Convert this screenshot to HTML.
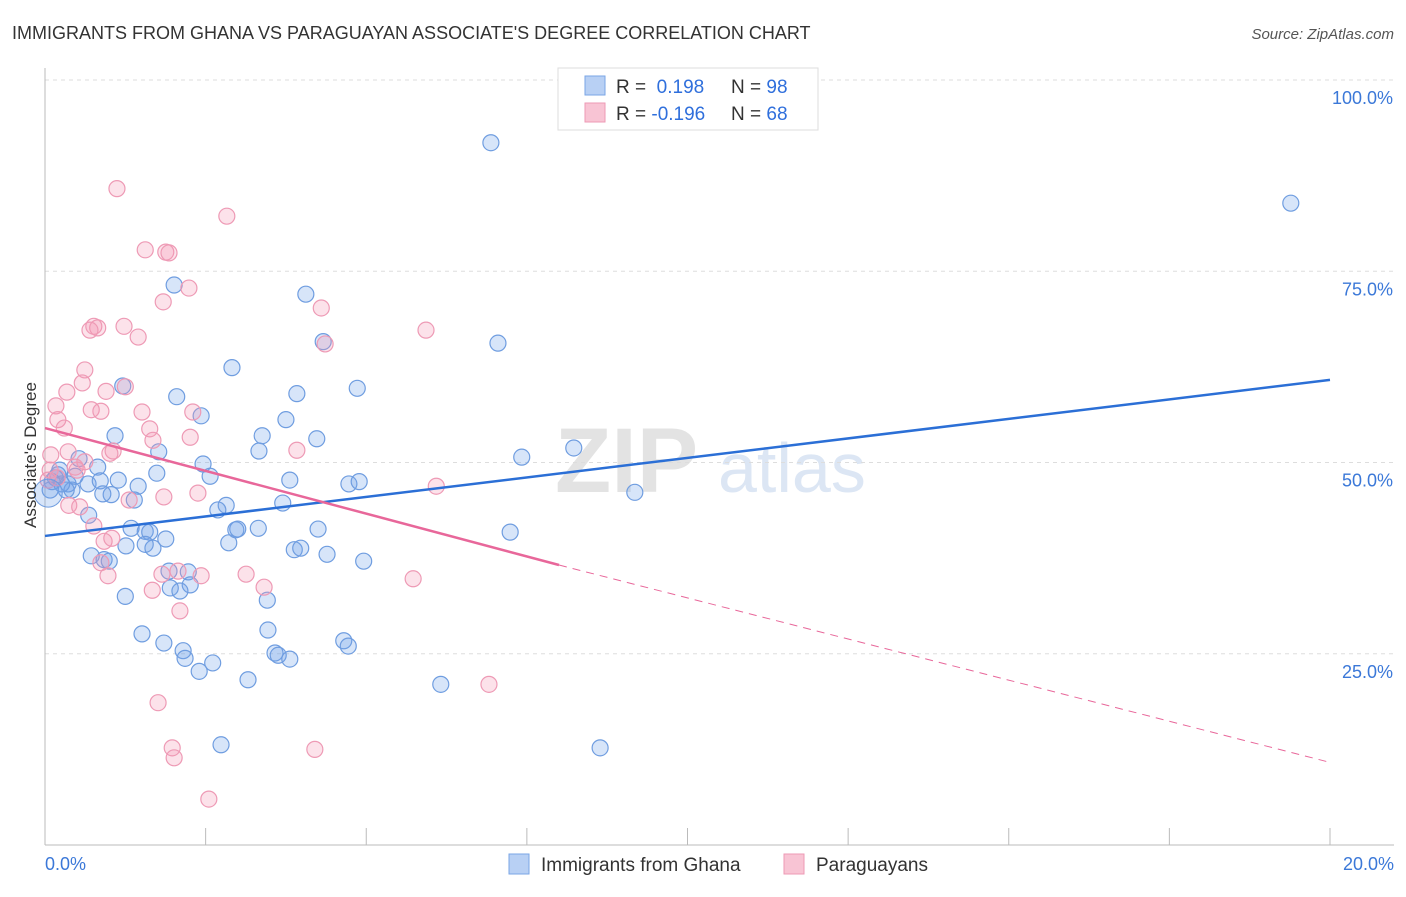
<!DOCTYPE html>
<html><head><meta charset="utf-8"><style>
body{margin:0;background:#fff;font-family:"Liberation Sans",sans-serif}
svg text{font-family:"Liberation Sans",sans-serif}
</style></head><body>
<svg id="chart" width="1406" height="892" xmlns="http://www.w3.org/2000/svg">
<text x="12" y="39" font-size="18" fill="#333">IMMIGRANTS FROM GHANA VS PARAGUAYAN ASSOCIATE'S DEGREE CORRELATION CHART</text>
<text x="1394" y="39" font-size="15" fill="#555" text-anchor="end" font-style="italic">Source: ZipAtlas.com</text>
<text x="555" y="492" font-size="92" fill="#e3e3e3" font-family="Liberation Serif" font-weight="bold">ZIP</text>
<text x="718" y="492" font-size="70" fill="#dce6f4">atlas</text>
<g id="grid"></g>
<g id="axes"></g>
<g id="pts"></g>
<g id="lines"></g>
<text x="36" y="455" font-size="17" fill="#333" text-anchor="middle" transform="rotate(-90 36 455)">Associate's Degree</text>
<g>
<rect x="558" y="68" width="260" height="62" fill="#fff" stroke="#ddd"/>
<rect x="585" y="76" width="20" height="19" fill="#b8d0f4" stroke="#7aa6e6"/>
<rect x="585" y="103" width="20" height="19" fill="#f8c4d4" stroke="#ee9ab5"/>
<text x="616" y="93" font-size="19" fill="#333">R = <tspan fill="#2f6fdc">&#160;0.198</tspan><tspan x="731">N = </tspan><tspan fill="#2f6fdc">98</tspan></text>
<text x="616" y="120" font-size="19" fill="#333">R = <tspan fill="#2f6fdc">-0.196</tspan><tspan x="731">N = </tspan><tspan fill="#2f6fdc">68</tspan></text>
</g>
<g>
<rect x="509" y="854" width="20" height="20" fill="#b8d0f4" stroke="#7aa6e6"/>
<text x="541" y="871" font-size="19" fill="#333">Immigrants from Ghana</text>
<rect x="784" y="854" width="20" height="20" fill="#f8c4d4" stroke="#ee9ab5"/>
<text x="816" y="871" font-size="19" fill="#333">Paraguayans</text>
</g>
</svg>
<script>
const xTicks=[0,2.5,5,7.5,10,12.5,15,17.5,20];
const yTicks=[25,50,75,100];
const yTickLabels=["25.0%","50.0%","75.0%","100.0%"];
const xTickLabels=["0.0%","20.0%"];
const bluePx=[[491,143],[1291,203],[174,285],[306,294],[498,343],[323,342],[232,368],[123,386],[297,394],[357,388],[177,397],[201,416],[286,420],[115,436],[262,436],[317,439],[259,451],[159,452],[574,448],[522,457],[203,464],[79,459],[98,467],[157,473],[210,476],[60,470],[55,478],[68,484],[72,490],[88,484],[100,481],[118,480],[138,486],[290,480],[349,484],[359,482],[635,492],[134,500],[111,495],[103,494],[226,505],[218,510],[283,503],[89,515],[131,528],[145,531],[150,532],[166,539],[238,529],[236,530],[258,528],[318,529],[510,532],[126,546],[153,548],[145,544],[229,543],[294,550],[301,548],[327,554],[364,561],[91,556],[104,560],[109,561],[169,571],[188,572],[190,585],[170,588],[180,591],[125,596],[267,600],[268,630],[142,634],[344,641],[348,646],[164,643],[183,651],[185,658],[275,653],[278,655],[290,659],[213,663],[199,671],[248,680],[441,684],[221,745],[600,748],[50,490],[58,475],[66,490],[75,476],[62,484],[52,482]];
const pinkPx=[[117,189],[227,216],[145,250],[166,252],[169,253],[189,288],[163,302],[321,308],[94,326],[98,328],[90,330],[124,326],[138,337],[426,330],[325,344],[85,370],[82,383],[67,392],[125,387],[106,391],[56,406],[91,410],[101,411],[142,412],[193,412],[58,420],[64,428],[150,429],[153,440],[190,437],[297,450],[113,451],[110,453],[51,455],[68,452],[85,462],[75,467],[50,470],[77,470],[57,478],[164,497],[198,493],[436,486],[69,505],[80,507],[94,526],[129,500],[104,541],[112,538],[101,563],[108,576],[201,576],[246,574],[162,574],[178,571],[152,590],[264,587],[180,611],[413,579],[489,684],[158,703],[172,748],[174,758],[315,749],[209,799],[48,480]];
// convert estimated reading to data values (x %, y %)
const blueX=bluePx.map(p=>+((p[0]-45)/1285*20).toFixed(2)), blueY=bluePx.map(p=>+((845-p[1])/765*100).toFixed(1));
const pinkX=pinkPx.map(p=>+((p[0]-45)/1285*20).toFixed(2)), pinkY=pinkPx.map(p=>+((845-p[1])/765*100).toFixed(1));
const blueTrend=[[0,40.4],[20,60.8]];
const pinkTrend=[[0,54.5],[8,36.6],[20,10.8]];
const X=v=>45+v/20*1285, Y=v=>845-v/100*765;
const NS="http://www.w3.org/2000/svg";
function mk(tag,attrs,parent){const e=document.createElementNS(NS,tag);for(const k in attrs)e.setAttribute(k,attrs[k]);parent.appendChild(e);return e;}
const grid=document.getElementById('grid'),axes=document.getElementById('axes'),pts=document.getElementById('pts'),lines=document.getElementById('lines');
yTicks.forEach((t,i)=>{
 const g=mk('line',{x1:45,x2:1394,y1:Y(t),y2:Y(t),stroke:'#ddd','stroke-dasharray':'4,4'},grid);
 
 
 const tx=mk('text',{x:1393,y:Y(t)+24,'font-size':18,fill:'#3b78d8','text-anchor':'end'},axes);tx.textContent=yTickLabels[i];
 
 
});
const ax=mk('line',{x1:45,x2:45,y1:68,y2:845,stroke:'#bbb'},axes);


const bx=mk('line',{x1:45,x2:1394,y1:845,y2:845,stroke:'#bbb'},axes);


xTicks.forEach(t=>{const l=mk('line',{x1:X(t),x2:X(t),y1:828,y2:845,stroke:'#bbb'},axes);
 
 });
[[0,'start',45],[20,'end',1394]].forEach((a,i)=>{const t=mk('text',{x:a[2],y:870,'font-size':18,fill:'#3b78d8','text-anchor':a[1]},axes);t.textContent=xTickLabels[i];
 
 });
function dots(xs,ys,fill,stroke,name){xs.forEach((x,i)=>{const c=mk('circle',{cx:X(x),cy:Y(ys[i]),r:8,fill:fill,stroke:stroke,'stroke-width':1.2},pts);
 
 });}
dots(blueX,blueY,'rgba(110,160,235,0.28)','#6f9de0','ghana-point');
dots(pinkX,pinkY,'rgba(245,150,180,0.28)','#ee9ab5','paraguayan-point');
const big=mk('circle',{cx:X(0.05),cy:Y(46),r:14,fill:'rgba(110,160,235,0.28)',stroke:'#6f9de0'},pts);


const bl=mk('line',{x1:X(blueTrend[0][0]),y1:Y(blueTrend[0][1]),x2:X(blueTrend[1][0]),y2:Y(blueTrend[1][1]),stroke:'#2b6fd6','stroke-width':2.5},lines);


const pl=mk('line',{x1:X(pinkTrend[0][0]),y1:Y(pinkTrend[0][1]),x2:X(pinkTrend[1][0]),y2:Y(pinkTrend[1][1]),stroke:'#e8679a','stroke-width':2.5},lines);


const pd=mk('line',{x1:X(pinkTrend[1][0]),y1:Y(pinkTrend[1][1]),x2:X(pinkTrend[2][0]),y2:Y(pinkTrend[2][1]),stroke:'#e8679a','stroke-width':1,'stroke-dasharray':'8,6'},lines);


</script>
</body></html>
